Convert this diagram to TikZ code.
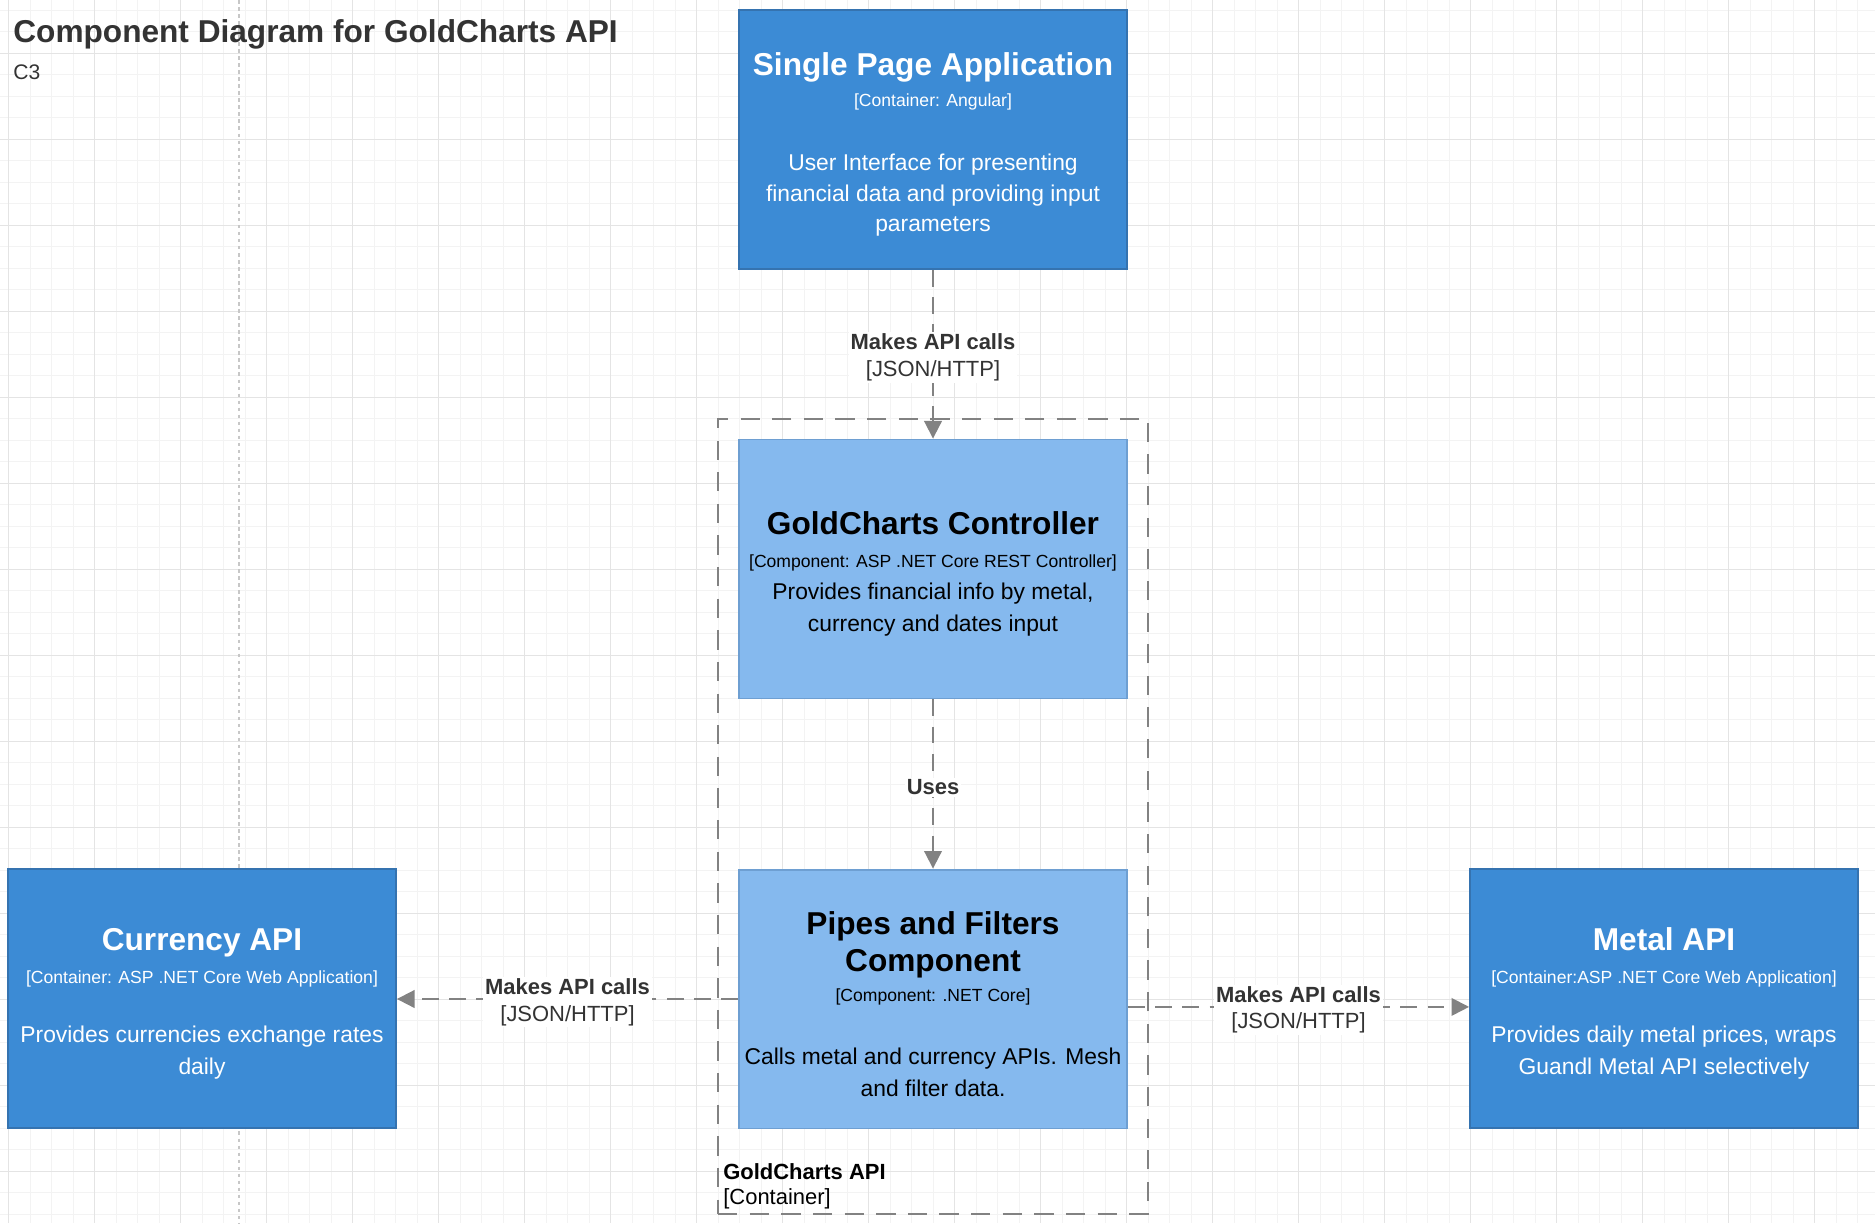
\documentclass[tikz,border=0pt]{standalone}
\usepackage{fontspec}
\setmainfont{Liberation Sans}
\usetikzlibrary{arrows.meta}
\definecolor{contfill}{HTML}{3C8BD5}
\definecolor{contline}{HTML}{3573B0}
\definecolor{compfill}{HTML}{85B9EE}
\definecolor{compline}{HTML}{6E9FD2}
\definecolor{relgray}{HTML}{828282}
\definecolor{txtgray}{HTML}{333333}
\definecolor{gridminor}{HTML}{F3F3F3}
\definecolor{gridmajor}{HTML}{E4E4E4}
\tikzstyle{box}=[draw, line width=1.1pt, minimum width=7.76cm, minimum height=5.18cm, inner sep=0pt, align=center, font=\fontsize{13}{17.4}\selectfont]
\tikzstyle{container}=[box, fill=contfill, draw=contline, text=white]
\tikzstyle{component}=[box, fill=compfill, draw=compline, text=black]
\tikzstyle{boundary}=[draw=relgray, line width=1.4pt, dash pattern=on 11pt off 7pt, minimum width=8.6cm, minimum height=15.9cm, inner sep=0pt]
\tikzstyle{rel}=[draw=relgray, line width=1.1pt, dash pattern=on 9.5pt off 6pt, -{Triangle[length=10pt,width=10pt]}]
\tikzstyle{rellabel}=[fill=white, inner sep=1pt, yshift=-1.8pt, text=txtgray, align=center, font=\fontsize{12.5}{15}\selectfont]
\newcommand{\boxtitle}[1]{{\fontsize{18}{20}\selectfont\bfseries #1}}
\newcommand{\boxtech}[1]{{\fontsize{10}{12}\selectfont #1}}
\newcommand{\topstrut}{\rule{0pt}{18.6pt}}

\begin{document}
\begin{tikzpicture}[x=0.02cm, y=-0.02cm]
        \fill[white] (0,0) rectangle (1875,1223);
        \useasboundingbox (0,0) rectangle (1875,1223);
        % grid
        \foreach \i in {0,...,87} \draw[gridminor, line width=0.6pt] ({8.7+21.5*\i},0) -- ({8.7+21.5*\i},1223);
        \foreach \j in {0,...,56} \draw[gridminor, line width=0.6pt] (0,{10.3+21.5*\j}) -- (1875,{10.3+21.5*\j});
        \foreach \i in {0,...,21} \draw[gridmajor, line width=0.6pt] ({8.7+86*\i},0) -- ({8.7+86*\i},1223);
        \foreach \j in {0,...,13} \draw[gridmajor, line width=0.6pt] (0,{53.3+86*\j}) -- (1875,{53.3+86*\j});
        \draw[black!22, line width=0.6pt, dash pattern=on 2pt off 2pt] (239,0) -- (239,1223);

        \node[anchor=base west, inner sep=0pt, text=txtgray, font=\fontsize{18}{20}\selectfont\bfseries] (title) at (13,43) {Component Diagram for GoldCharts API};
        \node[anchor=base west, inner sep=0pt, text=txtgray, font=\fontsize{12}{14}\selectfont] (level) at (13,80) {C3};

        \node[boundary] (api) at (933,816.5) {};
        \node[anchor=north west, inner sep=0pt, align=left, font=\fontsize{12.5}{14.5}\selectfont] (apilabel) at (723,1163) {\textbf{GoldCharts API}\\{}[Container]};

        \node[container] (spa) at (933,139.5) {\topstrut\boxtitle{Single Page Application}\\[0.5pt]\boxtech{[Container: Angular]}\\[19.2pt]User Interface for presenting\\financial data and providing input\\parameters};
        \node[component] (ctrl) at (933,569) {\topstrut\boxtitle{GoldCharts Controller}\\[1.4pt]\boxtech{[Component: ASP .NET Core REST Controller]}\\[0.5pt]Provides financial info by metal,\\[0.6pt]currency and dates input};
        \node[component] (pipes) at (933,999) {\topstrut\boxtitle{Pipes and Filters}\\[3.6pt]\boxtitle{Component}\\\boxtech{[Component: .NET Core]}\\[18.4pt]Calls metal and currency APIs. Mesh\\[0.6pt]and filter data.};
        \node[container] (currency) at (202,998.5) {\topstrut\boxtitle{Currency API}\\[1.6pt]\boxtech{[Container: ASP .NET Core Web Application]}\\[16.2pt]Provides currencies exchange rates\\[1pt]daily};
        \node[container] (metal) at (1664,998.5) {\topstrut\boxtitle{Metal API}\\[1.6pt]\boxtech{[Container:ASP .NET Core Web Application]}\\[16.2pt]Provides daily metal prices, wraps\\[1pt]Guandl Metal API selectively};

        \draw[rel] (spa) -- node[rellabel] {\textbf{Makes API calls}\\{}[JSON/HTTP]} (ctrl);
        \draw[rel] (ctrl) -- node[rellabel] {\textbf{Uses}} (pipes);
        \draw[rel] (pipes) -- node[rellabel] {\textbf{Makes API calls}\\{}[JSON/HTTP]} (currency.east |- pipes.west);
        \draw[rel] ([yshift=-4.5pt]pipes.east) -- node[rellabel] {\textbf{Makes API calls}\\{}[JSON/HTTP]} ([yshift=-4.5pt]pipes.east -| metal.west);
\end{tikzpicture}
\end{document}
